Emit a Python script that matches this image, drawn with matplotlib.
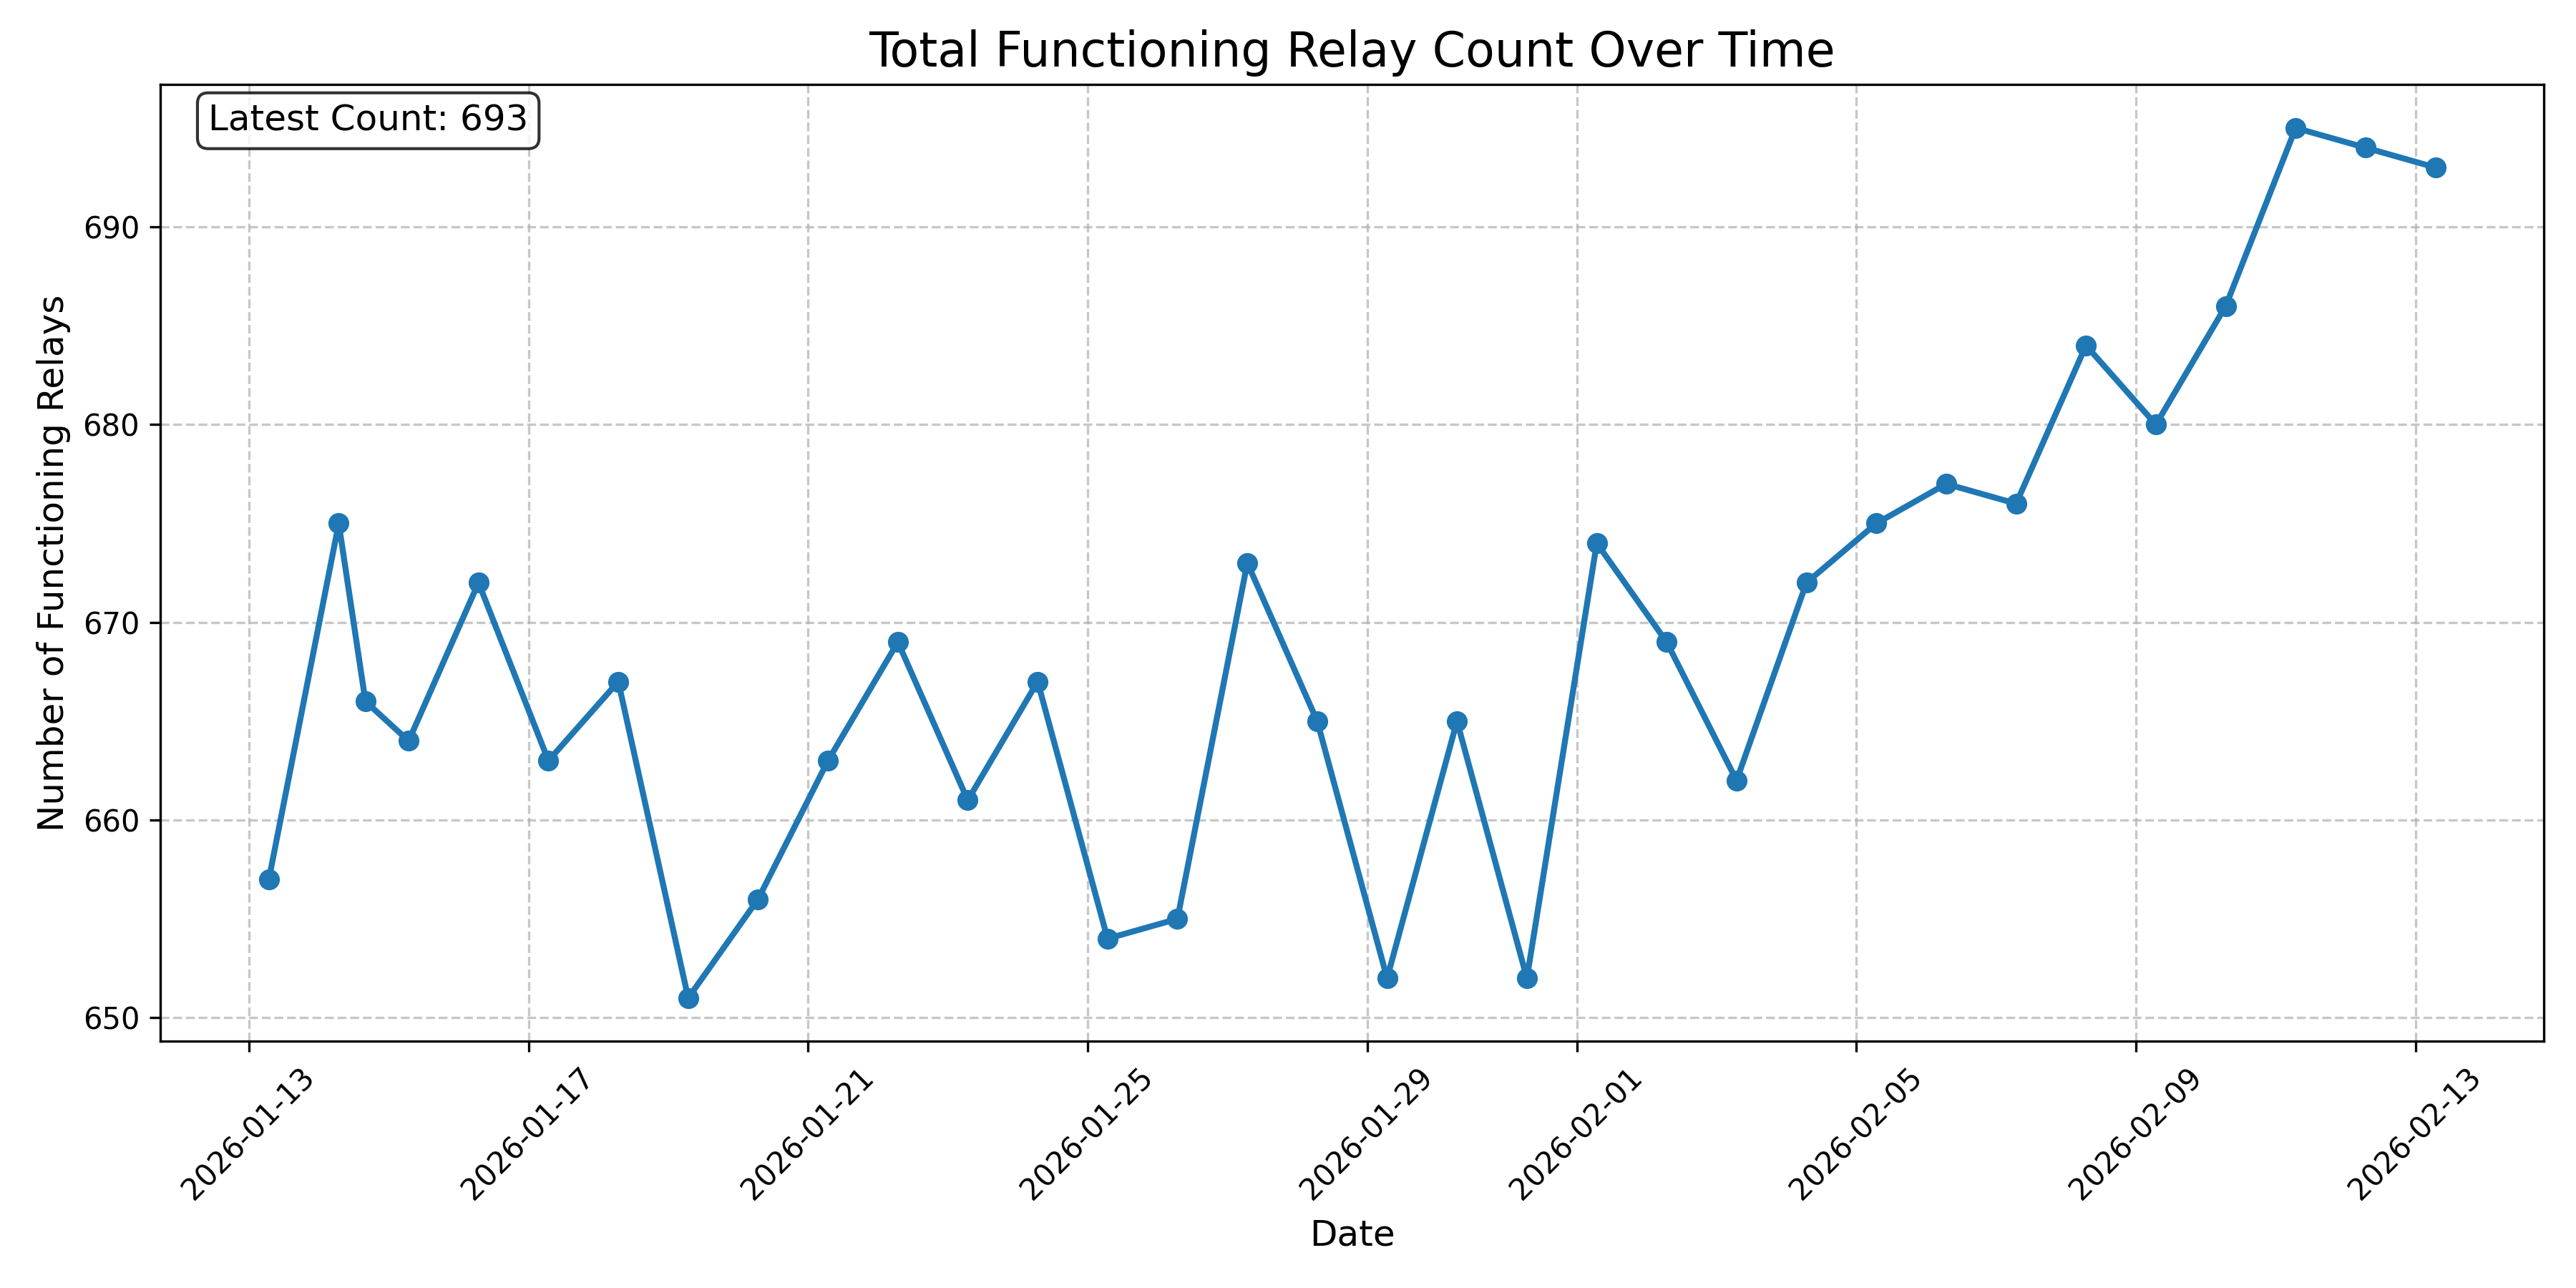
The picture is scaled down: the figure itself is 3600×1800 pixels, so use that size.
import pandas as pd
import matplotlib
matplotlib.use("Agg")
import matplotlib.pyplot as plt
import matplotlib.dates as mdates

# Snapshot timestamps (one per day, plus an extra one on 01-14)
timestamps = [
    "2026-01-13 06:50", "2026-01-14 06:50", "2026-01-14 16:00", "2026-01-15 06:50",
    "2026-01-16 06:50", "2026-01-17 06:50", "2026-01-18 06:50", "2026-01-19 06:50",
    "2026-01-20 06:50", "2026-01-21 06:50", "2026-01-22 06:50", "2026-01-23 06:50",
    "2026-01-24 06:50", "2026-01-25 06:50", "2026-01-26 06:50", "2026-01-27 06:50",
    "2026-01-28 06:50", "2026-01-29 06:50", "2026-01-30 06:50", "2026-01-31 06:50",
    "2026-02-01 06:50", "2026-02-02 06:50", "2026-02-03 06:50", "2026-02-04 06:50",
    "2026-02-05 06:50", "2026-02-06 06:50", "2026-02-07 06:50", "2026-02-08 06:50",
    "2026-02-09 06:50", "2026-02-10 06:50", "2026-02-11 06:50", "2026-02-12 06:50",
    "2026-02-13 06:50",
]
relay_counts = [
    657, 675, 666, 664, 672, 663, 667, 651, 656, 663, 669, 661, 667, 654, 655, 673,
    665, 652, 665, 652, 674, 669, 662, 672, 675, 677, 676, 684, 680, 686, 695, 694,
    693,
]

dates = pd.to_datetime(timestamps)

fig, ax = plt.subplots(figsize=(12, 6))
ax.plot(dates, relay_counts, marker="o", linewidth=2, markersize=6, color="#1f77b4")

ax.set_title("Total Functioning Relay Count Over Time", fontsize=16)
ax.set_xlabel("Date", fontsize=12)
ax.set_ylabel("Number of Functioning Relays", fontsize=12)
ax.grid(True, linestyle="--", alpha=0.7)

# default auto locator (restarts at month boundary), ISO date labels
ax.xaxis.set_major_formatter(mdates.DateFormatter("%Y-%m-%d"))
plt.setp(ax.get_xticklabels(), rotation=45)

ax.text(0.02, 0.98, f"Latest Count: {relay_counts[-1]}", transform=ax.transAxes,
        fontsize=12, verticalalignment="top",
        bbox=dict(boxstyle="round", facecolor="white", alpha=0.8))

plt.tight_layout()
plt.savefig("out.png", dpi=300)
plt.close()
